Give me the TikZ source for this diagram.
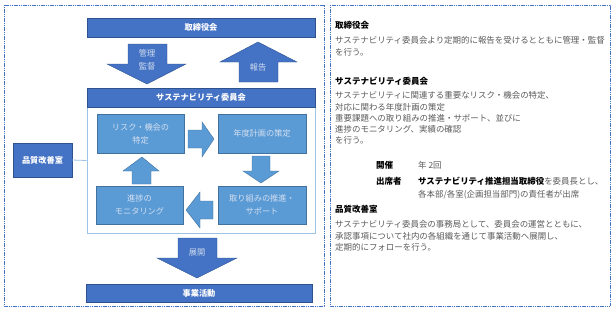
\documentclass[tikz,border=0pt]{standalone}
\usepackage{fontspec}
\setmainfont{Noto Sans CJK JP}
\usepackage{xcolor}
\usetikzlibrary{positioning}

\definecolor{darkblue}{HTML}{4472C4}
\definecolor{darkline}{HTML}{2F528F}
\definecolor{lightblue}{HTML}{5B9BD5}
\definecolor{lightline}{HTML}{41719C}
\definecolor{paletext}{HTML}{D3DFF0}
\definecolor{framecol}{HTML}{9DC3E6}
\definecolor{bodytext}{HTML}{595959}

\tikzset{
    darkbox/.style={draw=darkline, fill=darkblue, text=white, font=\fontsize{8.2}{10}\selectfont\bfseries, inner sep=0pt},
    lightbox/.style={draw=lightline, fill=lightblue, text=paletext, font=\fontsize{8.2}{13}\selectfont, align=center, inner sep=0pt},
    blockarrow/.style={draw=darkline, fill=darkblue},
    looparrow/.style={draw=lightline, fill=lightblue},
    arrowlabel/.style={text=paletext, font=\fontsize{8.2}{13}\selectfont, align=center},
    heading/.style={anchor=west, inner sep=0pt, font=\fontsize{8.5}{11}\selectfont\bfseries},
    bodyblock/.style={anchor=north west, inner sep=0pt, align=left, text=bodytext, font=\fontsize{8.45}{11.2}\selectfont},
    panel/.style={draw=darkblue, dash pattern=on 1.2pt off 0.6pt, line width=0.8pt}
}

\begin{document}
\begin{tikzpicture}[x=1pt, y=-1pt]
    \useasboundingbox (0,0) rectangle (612,311);

    % Panels
    \draw[panel] (4,5) rectangle (324,306);
    \draw[panel] (330,5) rectangle (610,306);

    % Boxes
    \node[darkbox, minimum width=228pt, minimum height=19pt] (board) at (201,27.5) {取締役会};
    \node[draw=framecol, line width=0.8pt, minimum width=228pt, minimum height=145pt] (frame) at (201,160.5) {};
    \node[darkbox, minimum width=228pt, minimum height=19pt] (comm) at (201,97.5) {サステナビリティ委員会};
    \node[lightbox, minimum width=87pt, minimum height=39pt] (risk) at (140.5,133.5) {リスク・機会の\\特定};
    \node[lightbox, minimum width=88pt, minimum height=39pt] (plan) at (262,133.5) {年度計画の策定};
    \node[lightbox, minimum width=88pt, minimum height=38pt] (promo) at (262,205) {取り組みの推進・\\サポート};
    \node[lightbox, minimum width=87pt, minimum height=38pt] (monitor) at (139.5,205) {進捗の\\モニタリング};
    \node[darkbox, minimum width=59pt, minimum height=34pt] (qa) at (42.5,160) {品質改善室};
    \node[darkbox, minimum width=226pt, minimum height=18pt] (biz) at (199,293) {事業活動};

    \draw[framecol, line width=0.8pt] (qa.east) -- (frame.west);

    % Block arrows between board and committee
    \draw[blockarrow] (128,44) -- (167,44) -- (167,64) -- (186,64) -- (147,84) -- (107,64) -- (128,64) -- cycle;
    \node[arrowlabel] (manage) at (147,60) {管理\\監督};
    \draw[blockarrow] (258,42) -- (297,62) -- (278,62) -- (278,82) -- (239,82) -- (239,62) -- (220,62) -- cycle;
    \node[arrowlabel] (report) at (258,67) {報告};

    % Cycle arrows
    \draw[looparrow] (188,130) -- (202,130) -- (202,122) -- (214,139) -- (202,157) -- (202,148) -- (188,148) -- cycle;
    \draw[looparrow] (252,156) -- (270,156) -- (270,171) -- (279,171) -- (261,183) -- (243,171) -- (252,171) -- cycle;
    \draw[looparrow] (213,201) -- (200,201) -- (200,192) -- (186,210) -- (200,228) -- (200,219) -- (213,219) -- cycle;
    \draw[looparrow] (142,157) -- (159,171) -- (151,171) -- (151,184) -- (132,184) -- (132,171) -- (123,171) -- cycle;

    % Roll-out arrow
    \draw[blockarrow] (178,238) -- (217,238) -- (217,258) -- (237,258) -- (197,278) -- (157,258) -- (178,258) -- cycle;
    \node[arrowlabel] (rollout) at (197,253) {展開};

    % Right panel text
    \node[heading] (h1) at (335,25) {取締役会};
    \node[bodyblock] (b1) at (335,36.5) {サステナビリティ委員会より定期的に報告を受けるとともに管理・監督\\を行う。};
    \node[heading] (h2) at (335,81) {サステナビリティ委員会};
    \node[bodyblock] (b2) at (335,91.5) {サステナビリティに関連する重要なリスク・機会の特定、\\対応に関わる年度計画の策定\\重要課題への取り組みの推進・サポート、並びに\\進捗のモニタリング、実績の確認\\を行う。};
    \node[heading] (held) at (376,165) {開催};
    \node[bodyblock, anchor=west] (heldval) at (418,165) {年 2回};
    \node[heading] (attend) at (376,181) {出席者};
    \node[bodyblock, anchor=west] (attendval) at (418,181) {\textbf{\color{black}サステナビリティ推進担当取締役}を委員長とし、};
    \node[bodyblock, anchor=west] (attendval2) at (418,195) {各本部/各室(企画担当部門)の責任者が出席};
    \node[heading] (h3) at (335,209) {品質改善室};
    \node[bodyblock] (b3) at (335,220.5) {サステナビリティ委員会の事務局として、委員会の運営とともに、\\承認事項について社内の各組織を通じて事業活動へ展開し、\\定期的にフォローを行う。};
\end{tikzpicture}
\end{document}
